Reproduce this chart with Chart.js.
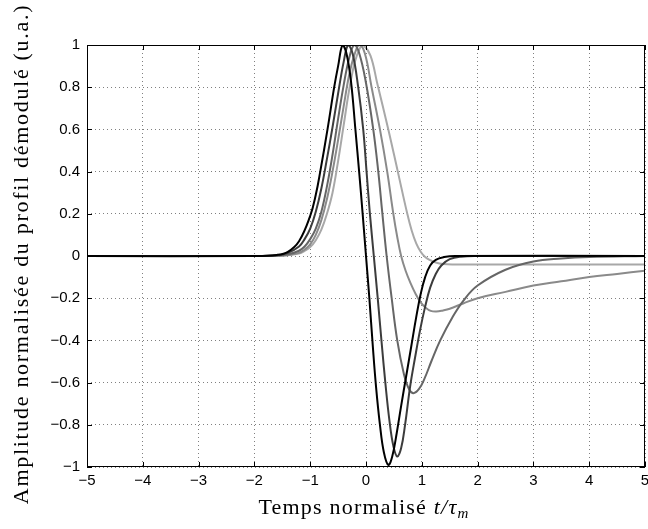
<!DOCTYPE html>
<html>
<head>
<meta charset="utf-8">
<script src="https://cdn.jsdelivr.net/npm/chart.js@4.4.1/dist/chart.umd.min.js"></script>
<style>
html,body{margin:0;padding:0;background:#fff;overflow:hidden}
#wrap{position:relative;width:648px;height:529px}
</style>
</head>
<body>
<div id="wrap"><canvas id="chart"></canvas></div>
<script>
// normalised time t/tau_m and amplitude, one pair per curve
const t1=[-5,-2,-1.6,-1.4,-1.2,-1,-0.9,-0.82,-0.69,-0.57,-0.5,-0.42,-0.35,-0.27,-0.19,-0.12,-0.06,0,0.06,0.12,0.18,0.25,0.32,0.4,0.47,0.55,0.63,0.72,0.81,0.9,0.98,1.06,1.15,1.25,1.4,1.6,5];
const a1=[0,0,0.005,0.02,0.07,0.19,0.29,0.4,0.6,0.8,0.9,1,0.96,0.83,0.6,0.39,0.2,0,-0.2,-0.42,-0.62,-0.8,-0.93,-0.99,-0.95,-0.84,-0.71,-0.57,-0.43,-0.29,-0.18,-0.1,-0.045,-0.018,-0.005,0,0];

const t2=[-5,-2,-1.6,-1.4,-1.2,-1.1,-1,-0.9,-0.8,-0.7,-0.6,-0.5,-0.4,-0.32,-0.24,-0.14,-0.05,0.01,0.07,0.14,0.21,0.28,0.35,0.42,0.49,0.56,0.63,0.7,0.79,0.88,0.97,1.06,1.15,1.25,1.35,1.5,1.7,2,5];
const a2=[0,0,0.004,0.015,0.045,0.08,0.13,0.21,0.32,0.46,0.61,0.77,0.92,1,0.96,0.8,0.6,0.4,0.2,0,-0.2,-0.41,-0.61,-0.78,-0.9,-0.95,-0.91,-0.8,-0.62,-0.48,-0.35,-0.24,-0.15,-0.085,-0.045,-0.015,-0.003,0,0];

const t3=[-5,-2,-1.6,-1.4,-1.2,-1.1,-1,-0.9,-0.8,-0.7,-0.6,-0.5,-0.4,-0.3,-0.21,-0.12,0,0.13,0.22,0.29,0.37,0.46,0.56,0.68,0.77,0.85,0.95,1.05,1.17,1.33,1.55,1.75,2,2.5,3,3.5,4,5];
const a3=[0,0,0.002,0.008,0.025,0.045,0.08,0.13,0.21,0.33,0.48,0.65,0.81,0.94,1,0.96,0.82,0.6,0.4,0.21,0,-0.2,-0.4,-0.56,-0.63,-0.65,-0.63,-0.58,-0.5,-0.4,-0.29,-0.21,-0.14,-0.065,-0.026,-0.012,-0.005,0];

const t4=[-5,-2,-1.6,-1.4,-1.2,-1.1,-1,-0.9,-0.8,-0.7,-0.6,-0.5,-0.4,-0.3,-0.2,-0.12,-0.02,0.1,0.25,0.38,0.49,0.56,0.63,0.71,0.8,0.89,0.98,1.07,1.16,1.26,1.38,1.5,1.74,2,2.5,3,3.5,4,4.5,5];
const a4=[0,0,0.001,0.005,0.015,0.03,0.055,0.1,0.17,0.27,0.4,0.55,0.71,0.86,0.96,1,0.96,0.8,0.6,0.4,0.2,0.09,0,-0.07,-0.13,-0.18,-0.22,-0.245,-0.26,-0.263,-0.258,-0.25,-0.225,-0.2,-0.17,-0.14,-0.12,-0.1,-0.085,-0.07];

const t5=[-5,-2,-1.6,-1.4,-1.2,-1.1,-1,-0.9,-0.8,-0.7,-0.6,-0.5,-0.4,-0.3,-0.2,-0.1,-0.05,0.08,0.2,0.4,0.57,0.74,0.82,0.9,0.98,1.06,1.15,1.25,1.38,1.55,5];
const a5=[0,0,0.001,0.004,0.012,0.024,0.042,0.075,0.125,0.2,0.3,0.45,0.62,0.79,0.92,0.99,1,0.95,0.82,0.6,0.4,0.2,0.12,0.06,0.02,-0.005,-0.02,-0.031,-0.038,-0.04,-0.04];

const xTickVals=[-5,-4,-3,-2,-1,0,1,2,3,4,5];
const yTickVals=[-1,-0.8,-0.6,-0.4,-0.2,0,0.2,0.4,0.6,0.8,1];
const yTitle="Amplitude normalisée du profil démodulé (u.a.)";

const lineColors=["#000000","#3c3c3c","#666666","#8a8a8a","#a8a8a8"];
const series=[[t1,a1],[t2,a2],[t3,a3],[t4,a4],[t5,a5]];

const fmt=v=>String(Math.round(v*10)/10).replace("-","\u2212");
const serif="'Liberation Serif', 'Times New Roman', serif";

const frame={
  id:"frame",
  afterDraw(chart){
    const {ctx,chartArea:a,scales:{x,y}}=chart;
    ctx.save();
    ctx.strokeStyle="#000";ctx.lineWidth=1;
    ctx.strokeRect(Math.round(a.left)+0.5,Math.round(a.top)+0.5,Math.round(a.right-a.left)-1,Math.round(a.bottom-a.top)-1);
    ctx.beginPath();
    xTickVals.forEach(v=>{
      const px=Math.round(x.getPixelForValue(v))+0.5;
      ctx.moveTo(px,a.bottom);ctx.lineTo(px,a.bottom-5);
      ctx.moveTo(px,a.top);ctx.lineTo(px,a.top+5);
    });
    yTickVals.forEach(v=>{
      const py=Math.round(y.getPixelForValue(v))+0.5;
      ctx.moveTo(a.left,py);ctx.lineTo(a.left+5,py);
      ctx.moveTo(a.right,py);ctx.lineTo(a.right-5,py);
    });
    ctx.stroke();

    // y title
    ctx.fillStyle="#000";
    ctx.save();
    ctx.translate(28,(a.top+a.bottom)/2-2);
    ctx.rotate(-Math.PI/2);
    ctx.font="22px "+serif;
    ctx.letterSpacing="1.7px";
    ctx.textAlign="center";ctx.textBaseline="alphabetic";
    ctx.fillText(yTitle,0,0);
    ctx.restore();

    // x title: Temps normalisé t/τ_m
    const parts=[["Temps normalisé ","22px "+serif,0],["t/τ","italic 22px "+serif,0],["m","italic 15px "+serif,4]];
    ctx.letterSpacing="1.2px";
    let w=0;
    parts.forEach(p=>{ctx.font=p[1];w+=ctx.measureText(p[0]).width;});
    let cx=(a.left+a.right)/2-2-w/2;
    ctx.textAlign="left";ctx.textBaseline="alphabetic";
    parts.forEach(p=>{ctx.font=p[1];ctx.fillText(p[0],cx,514+p[2]);cx+=ctx.measureText(p[0]).width;});
    ctx.restore();
  }
};

new Chart(document.getElementById("chart"),{
  type:"line",
  data:{
    datasets:series.map((s,i)=>({
      data:s[0].map((t,j)=>({x:t,y:s[1][j]})),
      borderColor:lineColors[i],
      borderWidth:2,
      pointRadius:0,
      fill:false,
      tension:0.4
    }))
  },
  options:{
    responsive:true,
    maintainAspectRatio:false,
    animation:false,
    events:[],
    layout:{padding:{top:45,right:3,left:0,bottom:0}},
    plugins:{legend:{display:false},tooltip:{enabled:false}},
    scales:{
      x:{
        type:"linear",min:-5,max:5,
        afterBuildTicks:s=>{s.ticks=xTickVals.map(v=>({value:v}));},
        afterFit:s=>{s.height=62;s.paddingLeft=0;s.paddingRight=0;},
        ticks:{color:"#000",padding:5,font:{family:"'Liberation Sans', Arial, sans-serif",size:15},callback:fmt,maxRotation:0,autoSkip:false},
        grid:{color:"#808080",lineWidth:1,drawTicks:false},
        border:{display:false,dash:[1,3]}
      },
      y:{
        type:"linear",min:-1,max:1,
        afterBuildTicks:s=>{s.ticks=yTickVals.map(v=>({value:v}));},
        afterFit:s=>{s.width=87;s.paddingTop=0;s.paddingBottom=0;},
        ticks:{color:"#000",padding:7,font:{family:"'Liberation Sans', Arial, sans-serif",size:15},callback:fmt,autoSkip:false},
        grid:{color:"#808080",lineWidth:1,drawTicks:false},
        border:{display:false,dash:[1,3]}
      }
    }
  },
  plugins:[frame]
});
</script>
</body>
</html>
